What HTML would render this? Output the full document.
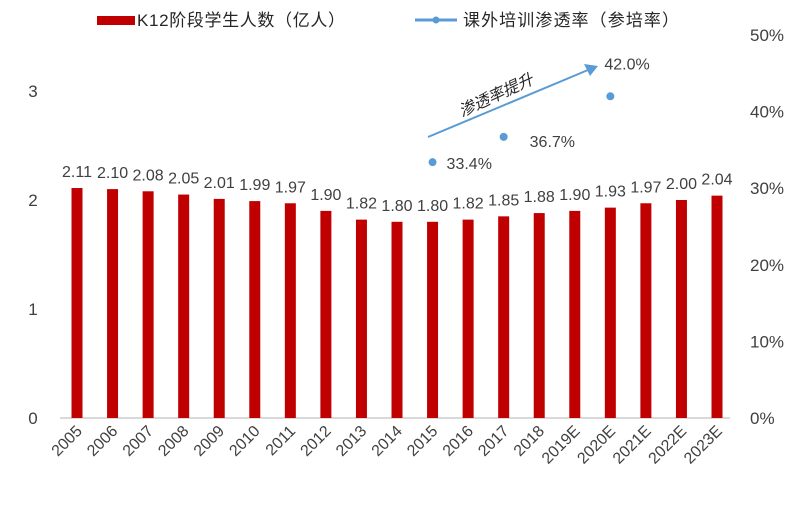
<!DOCTYPE html>
<html><head><meta charset="utf-8"><style>
body{margin:0;background:#fff}
svg text{font-family:"Liberation Sans","Noto Sans CJK SC",sans-serif;fill:#404040}
</style></head><body>
<svg id="chart" width="789" height="502" xmlns="http://www.w3.org/2000/svg">
<g>
<rect x="97" y="16" width="38" height="9" fill="#c00000"/>
<text x="137" y="26" font-size="17" textLength="208" style="fill:#262626">K12阶段学生人数（亿人）</text>
<line x1="415" y1="20" x2="457" y2="20" stroke="#5b9bd5" stroke-width="3"/>
<circle cx="436" cy="20" r="3.5" fill="#5b9bd5"/>
<text x="463" y="26" font-size="17" textLength="216" style="fill:#262626">课外培训渗透率（参培率）</text>
</g>
<g id="axes"></g>
<g id="bars"></g>
<g id="pts"></g>
<g>
<line x1="428" y1="137" x2="588" y2="70" stroke="#5b9bd5" stroke-width="2"/>
<polygon points="598,66 584,64 590,76" fill="#5b9bd5"/>
<text transform="translate(462,117) rotate(-25)" font-size="16" font-style="italic" style="fill:#262626">渗透率提升</text>
</g>
</svg>
<script>
const categories=["2005","2006","2007","2008","2009","2010","2011","2012","2013","2014","2015","2016","2017","2018","2019E","2020E","2021E","2022E","2023E"];
const students=[2.11,2.10,2.08,2.05,2.01,1.99,1.97,1.90,1.82,1.80,1.80,1.82,1.85,1.88,1.90,1.93,1.97,2.00,2.04];
const rateCats=["2015","2017","2020E"];
const rateVals=[33.4,36.7,42.0];
const leftTicks=[0,1,2,3];
const rightTicks=[0,10,20,30,40,50];
const NS="http://www.w3.org/2000/svg";
const base=418;
const x=i=>77+i*(640/18);
const yL=v=>base-v*109;
const yR=v=>base-v*7.66;
function mk(t,a,p,txt){const e=document.createElementNS(NS,t);for(const k in a)e.setAttribute(k,a[k]);if(txt!==undefined)e.textContent=txt;p.appendChild(e);return e;}
const ax=document.getElementById('axes');
const bl=mk('line',{x1:60,y1:base,x2:730,y2:base,stroke:'#d9d9d9','stroke-width':2},ax);


leftTicks.forEach(v=>{const t=mk('text',{x:33,y:yL(v)+6,'font-size':17,'text-anchor':'middle'},ax,String(v));

});
rightTicks.forEach(v=>{const t=mk('text',{x:750,y:yR(v)+6,'font-size':17},ax,v+'%');

});
categories.forEach((c,i)=>{const t=mk('text',{transform:`translate(${x(i)+6},${base+14}) rotate(-45)`,'font-size':16,'text-anchor':'end'},ax,c);

});
const bg=document.getElementById('bars');
students.forEach((v,i)=>{const r=mk('rect',{x:x(i)-5.5,y:yL(v),width:11,height:base-yL(v),fill:'#c00000'},bg);


const t=mk('text',{x:x(i),y:yL(v)-11,'font-size':16,'text-anchor':'middle'},bg,v.toFixed(2));

});
const pg=document.getElementById('pts');
const offs=[[14,7],[26,10],[-6,-27]];
rateCats.forEach((c,j)=>{const i=categories.indexOf(c);const cx=x(i),cy=yR(rateVals[j]);
const p=mk('circle',{cx:cx,cy:cy,r:4,fill:'#5b9bd5'},pg);


const t=mk('text',{x:cx+offs[j][0],y:cy+offs[j][1],'font-size':16},pg,rateVals[j].toFixed(1)+'%');

});
</script>
</body></html>
